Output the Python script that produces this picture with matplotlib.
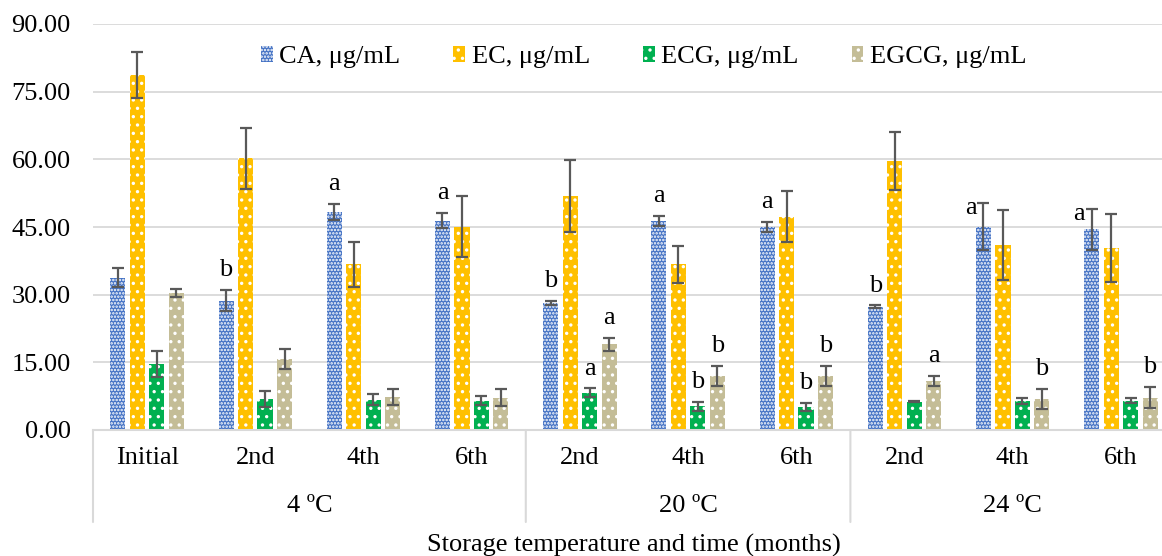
import matplotlib.pyplot as plt
import numpy as np

plt.rcParams['font.family'] = ['Liberation Serif', 'DejaVu Serif']
plt.rcParams['hatch.linewidth'] = 1.2

# data
periodos = ["Initial", "2nd", "4th", "6th", "2nd", "4th", "6th", "2nd", "4th", "6th"]
temperaturas = ["4 ºC", "20 ºC", "24 ºC"]
grupos_temp = [(0, 3), (4, 6), (7, 9)]

series = ["CA, μg/mL", "EC, μg/mL", "ECG, μg/mL", "EGCG, μg/mL"]
ca = [33.8, 28.7, 48.4, 46.4, 28.2, 46.3, 45.0, 27.3, 45.1, 44.5]
ca_err = [2.2, 2.4, 1.8, 1.7, 0.5, 1.1, 1.1, 0.3, 5.3, 4.6]
ec = [78.7, 60.2, 36.7, 45.1, 51.8, 36.7, 47.3, 59.6, 41.0, 40.3]
ec_err = [5.1, 6.7, 4.9, 6.7, 8.0, 4.1, 5.6, 6.4, 7.8, 7.6]
ecg = [14.7, 6.9, 6.7, 6.5, 8.3, 5.3, 5.1, 6.3, 6.5, 6.5]
ecg_err = [2.9, 1.8, 1.2, 1.0, 0.9, 1.0, 0.8, 0.2, 0.7, 0.6]
egcg = [30.4, 15.8, 7.3, 7.2, 19.0, 12.0, 12.0, 10.9, 6.9, 7.2]
egcg_err = [0.9, 2.2, 1.8, 1.8, 1.4, 2.2, 2.2, 1.1, 2.2, 2.3]

# significance letters: (periodo, serie, letra)
letras = [(1, 0, 'b'), (2, 0, 'a'), (3, 0, 'a'),
          (4, 0, 'b'), (4, 2, 'a'), (4, 3, 'a'),
          (5, 0, 'a'), (5, 2, 'b'), (5, 3, 'b'),
          (6, 0, 'a'), (6, 2, 'b'), (6, 3, 'b'),
          (7, 0, 'b'), (7, 3, 'a'),
          (8, 0, 'a'), (8, 3, 'b'),
          (9, 0, 'a'), (9, 3, 'b')]
letras_al_lado = [(8, 0), (9, 0)]

colores = ['#4472C4', '#FFC000', '#00B050', '#C4BD97']
tramas = ['.....', '..', '..', '..']
valores = [ca, ec, ecg, egcg]
errores = [ca_err, ec_err, ecg_err, egcg_err]

fs = 19
fig = plt.figure(figsize=(11.62, 5.56), dpi=100)
ax = fig.add_axes([93 / 1162, 126 / 556, 1082 / 1162, 406 / 556])

x = np.arange(len(periodos))
ancho = 0.14
desplaz = [-0.27, -0.09, 0.09, 0.27]

for i in range(4):
    ax.bar(x + desplaz[i], valores[i], ancho, color=colores[i], edgecolor='white',
           linewidth=0, hatch=tramas[i], label=series[i], zorder=2)
    ax.errorbar(x + desplaz[i], valores[i], yerr=errores[i], fmt='none',
                ecolor='#595959', elinewidth=1.6, capsize=4.5, capthick=1.6, zorder=3)

for g, s, letra in letras:
    top = valores[s][g] + errores[s][g]
    xp = x[g] + desplaz[s]
    if (g, s) in letras_al_lado:
        ax.annotate(letra, (xp, top), xytext=(-9, -4), textcoords='offset points',
                    ha='center', va='center', fontsize=fs)
    else:
        ax.annotate(letra, (xp, top), xytext=(0, 10), textcoords='offset points',
                    ha='center', va='baseline', fontsize=fs)

ax.set_ylim(0, 90)
ax.set_yticks(np.arange(0, 91, 15))
ax.set_yticklabels([f"{v:.2f}" for v in np.arange(0, 91, 15)], fontsize=fs)
ax.set_xlim(-0.5, 9.5)
ax.set_xticks(x)
ax.set_xticklabels(periodos, fontsize=fs)
ax.tick_params(axis='y', length=0, pad=16)
ax.tick_params(axis='x', length=0, pad=12)
ax.grid(axis='y', color='#D9D9D9', linewidth=1.3, zorder=0)
ax.set_axisbelow(True)
for lado in ['top', 'right', 'left']:
    ax.spines[lado].set_visible(False)
ax.spines['bottom'].set_color('#D9D9D9')
ax.spines['bottom'].set_linewidth(1.5)

# category separators and second level labels
bordes = [-0.5, 3.5, 6.5, 9.5]
for b in bordes:
    ax.annotate('', xy=(b, 0), xycoords=('data', 'axes fraction'),
                xytext=(b, -92 / 406), textcoords=('data', 'axes fraction'),
                arrowprops=dict(arrowstyle='-', color='#D9D9D9', lw=1.5,
                                shrinkA=0, shrinkB=0))
for (a, b), t in zip(grupos_temp, temperaturas):
    ax.text((a + b) / 2, -76 / 406, t, transform=ax.get_xaxis_transform(),
            ha='center', va='center', fontsize=fs)

ax.text(0.5, -115 / 406, "Storage temperature and time (months)",
        transform=ax.transAxes, ha='center', va='center', fontsize=fs)

ax.legend(loc='center', bbox_to_anchor=(0.509, 0.919), ncol=4, frameon=False,
          fontsize=fs, handlelength=0.45, handleheight=0.6, handletextpad=0.25,
          columnspacing=2.0)

plt.savefig('out.png', dpi=100)
